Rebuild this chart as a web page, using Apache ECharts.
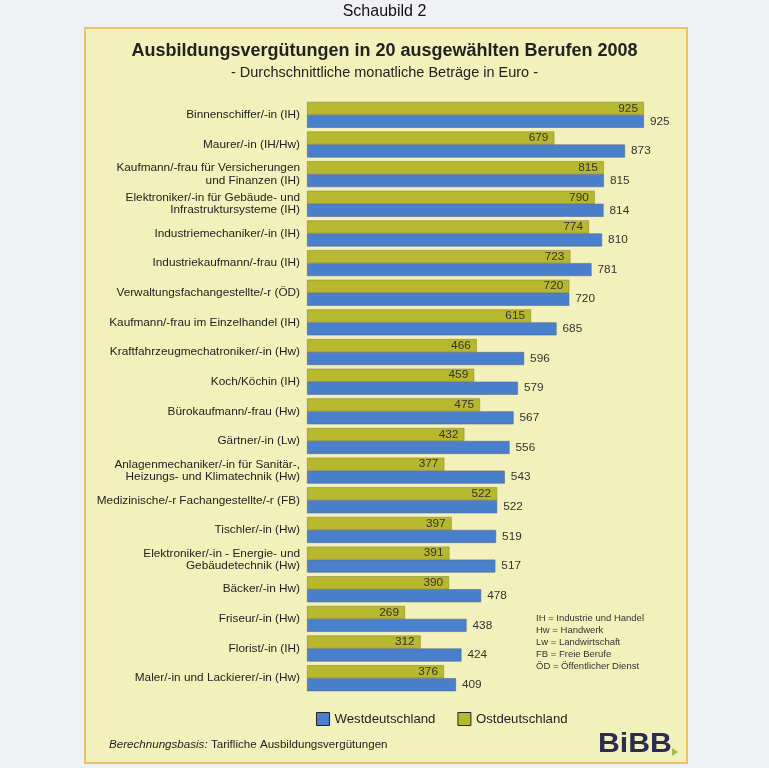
<!DOCTYPE html>
<html>
<head>
<meta charset="utf-8">
<script src="https://cdn.jsdelivr.net/npm/echarts@6/dist/echarts.min.js"></script>
<style>
html,body{margin:0;padding:0;background:#f0f1f4;}
#c{width:769px;height:768px;}
</style>
</head>
<body>
<div id="c"></div>
<script>
var categories = [
  "Binnenschiffer/-in (IH)",
  "Maurer/-in (IH/Hw)",
  "Kaufmann/-frau für Versicherungen\nund Finanzen (IH)",
  "Elektroniker/-in für Gebäude- und\nInfrastruktursysteme (IH)",
  "Industriemechaniker/-in (IH)",
  "Industriekaufmann/-frau (IH)",
  "Verwaltungsfachangestellte/-r (ÖD)",
  "Kaufmann/-frau im Einzelhandel (IH)",
  "Kraftfahrzeugmechatroniker/-in (Hw)",
  "Koch/Köchin (IH)",
  "Bürokaufmann/-frau (Hw)",
  "Gärtner/-in (Lw)",
  "Anlagenmechaniker/-in für Sanitär-,\nHeizungs- und Klimatechnik (Hw)",
  "Medizinische/-r Fachangestellte/-r (FB)",
  "Tischler/-in (Hw)",
  "Elektroniker/-in - Energie- und\nGebäudetechnik (Hw)",
  "Bäcker/-in Hw)",
  "Friseur/-in (Hw)",
  "Florist/-in (IH)",
  "Maler/-in und Lackierer/-in (Hw)"
];
var west = [925,873,815,814,810,781,720,685,596,579,567,556,543,522,519,517,478,438,424,409];
var ost  = [925,679,815,790,774,723,720,615,466,459,475,432,377,522,397,391,390,269,312,376];
var abbreviations = [
  "IH = Industrie und Handel",
  "Hw = Handwerk",
  "Lw = Landwirtschaft",
  "FB = Freie Berufe",
  "ÖD = Öffentlicher Dienst"
];

var FONT = "Liberation Sans, Arial, sans-serif";
var chart = echarts.init(document.getElementById('c'));

var graphics = [
  {type:'rect', z:-10, shape:{x:85,y:28,width:602,height:735}, style:{fill:'#f3f1bb', stroke:'#e9c466', lineWidth:2}},
  {type:'text', left:'center', top:4, style:{text:'Schaubild 2', font:'16px '+FONT, fill:'#111'}},
  {type:'text', x:109, y:739, style:{text:'{i|Berechnungsbasis:} {n|Tarifliche Ausbildungsvergütungen}', rich:{i:{fontStyle:'italic', fontSize:11.6, fontFamily:FONT, fill:'#222'}, n:{fontSize:11.6, fontFamily:FONT, fill:'#222'}}}},
  {type:'text', x:598, y:731, scaleX:1.12, style:{text:'BiBB', font:'bold 27px '+FONT, fill:'#2b2c52'}},
  {type:'polygon', shape:{points:[[672,748],[672,756],[678,752]]}, style:{fill:'#9ac04a'}},
  {type:'text', x:536, y:612, style:{text:abbreviations.join('\n'), font:'9.5px '+FONT, lineHeight:12, fill:'#333'}}
];

chart.setOption({
  backgroundColor:'#f0f1f4',
  textStyle:{fontFamily:FONT},
  title:{
    text:'Ausbildungsvergütungen in 20 ausgewählten Berufen 2008',
    subtext:'- Durchschnittliche monatliche Beträge in Euro -',
    left:'center', top:37, itemGap:5,
    textStyle:{fontSize:18, fontWeight:'bold', color:'#222', fontFamily:FONT},
    subtextStyle:{fontSize:14.5, color:'#222', fontFamily:FONT}
  },
  legend:{
    left:311, top:707, itemWidth:13, itemHeight:13, itemGap:22,
    textStyle:{fontSize:13.2, color:'#222', fontFamily:FONT},
    data:[
      {name:'Westdeutschland', icon:'rect', itemStyle:{color:'#4a7fcc', borderColor:'#222', borderWidth:1}},
      {name:'Ostdeutschland', icon:'rect', itemStyle:{color:'#b8b82e', borderColor:'#222', borderWidth:1}}
    ]
  },
  grid:{left:307, right:97.7, top:100, bottom:75, containLabel:false},
  xAxis:{type:'value', min:0, max:1000, show:false},
  yAxis:{
    type:'category', data:categories, inverse:true,
    axisLine:{show:false}, axisTick:{show:false},
    axisLabel:{fontSize:11.8, color:'#222', margin:7, lineHeight:12.5, align:'right', fontFamily:FONT}
  },
  series:[
    {name:'Ostdeutschland', type:'bar', data:ost, barWidth:13, barGap:'0%',
     itemStyle:{color:'#b8b82e', borderColor:'#8c8a40', borderWidth:0.6},
     label:{show:true, position:'insideRight', distance:6, fontSize:11.8, color:'#333', fontFamily:FONT}},
    {name:'Westdeutschland', type:'bar', data:west, barWidth:13, barGap:'0%',
     itemStyle:{color:'#4a7fcc', borderColor:'#5a6a80', borderWidth:0.6},
     label:{show:true, position:'right', distance:6, fontSize:11.8, color:'#333', fontFamily:FONT}}
  ],
  graphic:graphics
});
</script>
</body>
</html>
